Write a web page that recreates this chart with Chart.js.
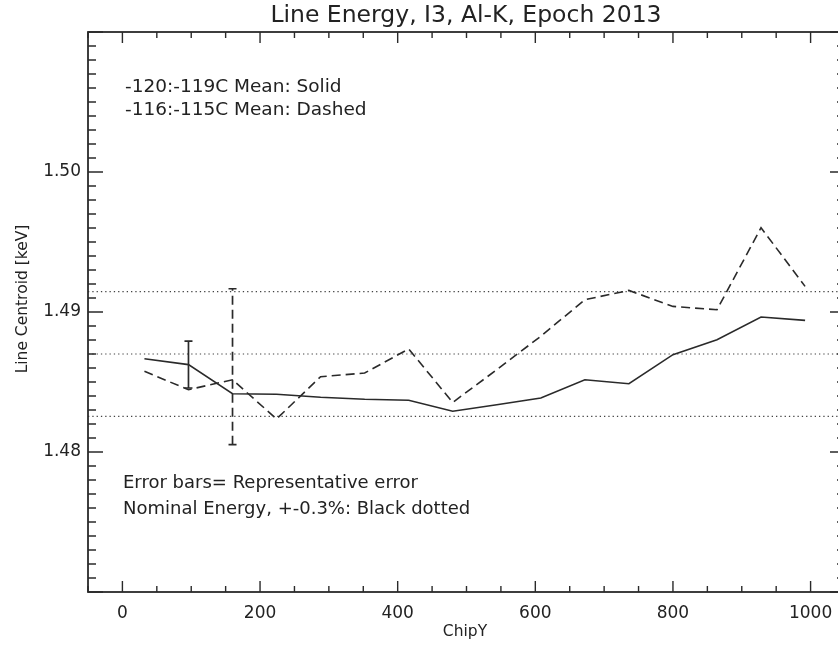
<!DOCTYPE html>
<html><head><meta charset="utf-8">
<style>html,body{margin:0;padding:0;background:#fff;overflow:hidden;width:838px;height:648px}canvas{display:block}</style>
<script src="https://cdn.jsdelivr.net/npm/chart.js@4.4.0/dist/chart.umd.min.js"></script>
</head><body>
<canvas id="c" width="852" height="648"></canvas>
<script>
// ---- data ----
const chipY = [32, 96, 160, 224, 288, 352, 416, 480, 544, 608, 672, 736, 800, 864, 928, 992];
const solidMean = [1.48666, 1.48624, 1.48416, 1.48413, 1.48391, 1.48377, 1.48370, 1.48291, 1.48338, 1.48386, 1.48516, 1.48488, 1.48695, 1.48802, 1.48964, 1.48940];
const dashedMean = [1.48576, 1.48445, 1.48516, 1.48236, 1.48538, 1.48564, 1.48736, 1.48354, 1.48588, 1.48827, 1.49088, 1.49154, 1.49040, 1.49016, 1.49602, 1.49183];
const nominalLines = [1.482539, 1.487, 1.491461];
const errX = [96, 160];
const errLow = [1.48457, 1.48052];
const errHigh = [1.48792, 1.49166];
const xTickLabels = [0, 200, 400, 600, 800, 1000];
const yTickLabels = [1.48, 1.49, 1.50];
const xRange = [-50, 1050];
const yRange = [1.47, 1.51];

const FONT = "'DejaVu Sans', sans-serif";
const INK = '#2a2a2a';

const pts = (xs, ys) => xs.map((x, i) => ({x, y: ys[i]}));

const datasets = [
  {data: pts(chipY, solidMean), borderColor: INK, borderWidth: 1.6, pointRadius: 0, showLine: true, tension: 0},
  {data: pts(chipY, dashedMean), borderColor: INK, borderWidth: 1.6, borderDash: [9, 5], pointRadius: 0, showLine: true, tension: 0}
];
nominalLines.forEach(v => datasets.push({
  data: [{x: xRange[0], y: v}, {x: xRange[1], y: v}],
  borderColor: '#444', borderWidth: 1.2, borderDash: [1.3, 3], pointRadius: 0, showLine: true
}));

const decor = {
  id: 'decor',
  afterDatasetsDraw(chart) {
    const ctx = chart.ctx, xs = chart.scales.x, ys = chart.scales.y;
    ctx.save();
    ctx.strokeStyle = INK; ctx.lineWidth = 1.7;
    errX.forEach((x, i) => {
      const px = xs.getPixelForValue(x);
      const lo = ys.getPixelForValue(errLow[i]), hi = ys.getPixelForValue(errHigh[i]);
      ctx.setLineDash(i === 1 ? [9, 5] : []);
      ctx.beginPath(); ctx.moveTo(px, lo); ctx.lineTo(px, hi); ctx.stroke();
      ctx.setLineDash([]);
      ctx.beginPath();
      ctx.moveTo(px - 4, lo); ctx.lineTo(px + 4, lo);
      ctx.moveTo(px - 4, hi); ctx.lineTo(px + 4, hi);
      ctx.stroke();
    });
    ctx.restore();
  },
  afterDraw(chart) {
    const ctx = chart.ctx, a = chart.chartArea, xs = chart.scales.x, ys = chart.scales.y;
    ctx.save();
    ctx.strokeStyle = INK; ctx.lineWidth = 1.8;
    ctx.strokeRect(a.left, a.top, a.right - a.left, a.bottom - a.top);
    ctx.lineWidth = 1.4;
    ctx.beginPath();
    for (let v = xRange[0]; v <= xRange[1] + 1e-9; v += 50) {
      const px = xs.getPixelForValue(v);
      const major = Math.abs(v % 200) < 1e-6;
      const L = major ? 11 : 6;
      ctx.moveTo(px, a.bottom); ctx.lineTo(px, a.bottom - L);
      ctx.moveTo(px, a.top); ctx.lineTo(px, a.top + L);
    }
    for (let k = 0; k <= 40; k++) {
      const v = yRange[0] + k * 0.001;
      const py = ys.getPixelForValue(v);
      const major = k % 10 === 0;
      const L = major ? 15 : 8;
      ctx.moveTo(a.left, py); ctx.lineTo(a.left + L, py);
      ctx.moveTo(a.right, py); ctx.lineTo(a.right - L, py);
    }
    ctx.stroke();
    // texts
    ctx.fillStyle = '#222';
    ctx.textBaseline = 'middle';
    ctx.textAlign = 'center';
    ctx.font = '23.5px ' + FONT;
    ctx.fillText('Line Energy, I3, Al-K, Epoch 2013', 466, 16);
    ctx.font = '15.5px ' + FONT;
    ctx.fillText('ChipY', 465, 632);
    ctx.save();
    ctx.translate(23, 299); ctx.rotate(-Math.PI / 2);
    ctx.fillText('Line Centroid [keV]', 0, 0);
    ctx.restore();
    ctx.textAlign = 'left';
    ctx.font = '18.5px ' + FONT;
    ctx.fillText('-120:-119C Mean: Solid', 125, 87);
    ctx.fillText('-116:-115C Mean: Dashed', 125, 110);
    ctx.font = '18px ' + FONT;
    ctx.fillText('Error bars= Representative error', 123, 483);
    ctx.fillText('Nominal Energy, +-0.3%: Black dotted', 123, 509);
    ctx.restore();
  }
};

new Chart(document.getElementById('c'), {
  type: 'scatter',
  data: {datasets},
  options: {
    responsive: false,
    animation: false,
    layout: {padding: {top: 32, right: 7, left: 0, bottom: 0}},
    plugins: {legend: {display: false}, title: {display: false}, tooltip: {enabled: false}},
    scales: {
      x: {
        type: 'linear', min: xRange[0], max: xRange[1],
        grid: {display: false, drawTicks: false}, border: {display: false},
        afterBuildTicks: s => { s.ticks = xTickLabels.map(v => ({value: v})); },
        afterFit: s => { s.height = 56; s.paddingLeft = 0; s.paddingRight = 0; },
        ticks: {color: '#222', font: {family: FONT, size: 17}, padding: 11, maxRotation: 0, autoSkip: false,
          callback: v => String(v)}
      },
      y: {
        type: 'linear', min: yRange[0], max: yRange[1],
        grid: {display: false, drawTicks: false}, border: {display: false},
        afterBuildTicks: s => { s.ticks = yTickLabels.map(v => ({value: v})); },
        afterFit: s => { s.width = 88; s.paddingTop = 0; s.paddingBottom = 0; },
        ticks: {color: '#222', font: {family: FONT, size: 17}, padding: 7, autoSkip: false,
          callback: v => Number(v).toFixed(2)}
      }
    }
  },
  plugins: [decor]
});
</script>
</body></html>
